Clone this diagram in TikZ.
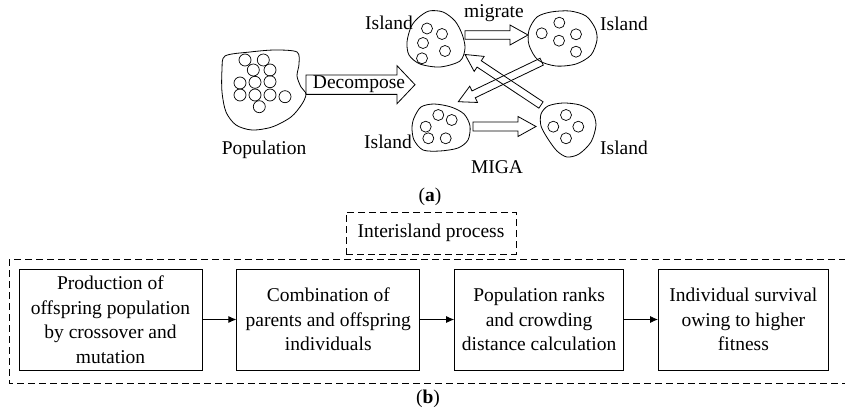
\documentclass[tikz,border=0pt]{standalone}
\usepackage{fontspec}
\setmainfont{Liberation Serif}
\usetikzlibrary{arrows.meta,positioning,calc}

% hollow block arrow: half body, half head, head length, tail, tip
\newcommand{\fatarrow}[5]{%
  \coordinate (hb) at ($(#5)!#3!(#4)$);
  \draw[fatarr] ($(#4)!#1!90:(#5)$) -- ($(hb)!#1!90:(#5)$) -- ($(hb)!#2!90:(#5)$)
    -- (#5) -- ($(hb)!#2!-90:(#5)$) -- ($(hb)!#1!-90:(#5)$) -- ($(#4)!#1!-90:(#5)$) -- cycle;
}

\begin{document}
\begin{tikzpicture}[x=1pt, y=-1pt, node distance=34pt,
  font=\fontsize{19.5}{24.5}\selectfont,
  blob/.style={draw, line width=0.8pt},
  indiv/.style={draw, line width=0.7pt},
  fatarr/.style={draw, line width=0.8pt, line join=miter},
  procbox/.style={draw, line width=0.8pt, align=center, minimum height=101pt, inner sep=2pt},
  dashbox/.style={draw, line width=0.8pt, dash pattern=on 7pt off 4pt},
  arr/.style={-{Latex[length=8pt,width=7pt]}, line width=0.8pt}
]
\useasboundingbox (0,0) rectangle (845,414);

% (a) population and islands
\draw[blob] plot[smooth cycle] coordinates {(225,56) (250,52) (275,50) (297,52) (299,64)
  (297,76) (301,87) (306,94) (302,104) (291,117) (272,127) (252,130) (236,125) (226,112) (222,92) (222,70)};
\foreach \x/\y in {245/60, 263.3/60, 253.3/70, 270/70, 240/83, 255/82.3, 270/81.7,
  240/95, 255/95, 270/95, 285/96.7, 259.3/106.7}
  \draw[indiv] (\x,\y) circle[radius=6pt];

\draw[blob] plot[smooth cycle] coordinates {(407,42) (411,27) (418,18) (429,11) (443,12) (455,21)
  (462,34) (465,48) (460,61) (440,67) (420,64) (409,55)};
\foreach \x/\y in {427/28.5, 442/34, 423/43, 445/51, 422/58.3}
  \draw[indiv] (\x,\y) circle[radius=5.5pt];

\draw[blob] plot[smooth cycle] coordinates {(529,30) (537,17) (551,12) (570,11) (586,16) (595,28)
  (597,40) (591,55) (576,64) (556,66) (538,60) (529,45)};
\foreach \x/\y in {541.7/33.3, 559.3/22.7, 559/40.7, 576/34.3, 576/51.7}
  \draw[indiv] (\x,\y) circle[radius=5.5pt];

\draw[blob] plot[smooth cycle] coordinates {(414,118) (421,107) (434,104) (451,107) (464,114)
  (470,126) (468,140) (458,148) (440,151) (423,150) (414,140) (412,128)};
\foreach \x/\y in {438.3/115, 451.7/120, 425.7/126.7, 428.3/138.3, 445.7/138.3}
  \draw[indiv] (\x,\y) circle[radius=5.5pt];

\draw[blob] plot[smooth cycle] coordinates {(541,114) (548,106) (563,103) (580,105) (592,112)
  (596,125) (591,142) (579,154) (567,157) (557,151) (548,139) (541,126)};
\foreach \x/\y in {566/115, 553.3/126.7, 578.3/126.7, 566/138.3}
  \draw[indiv] (\x,\y) circle[radius=5.5pt];

% arrow ends
\coordinate (pope) at (306,84.7);
\coordinate (dectip) at (415,84.7);
\coordinate (isla) at (465,35);
\coordinate (islb) at (528,35);
\coordinate (islc) at (473,126.5);
\coordinate (isld) at (536,126.5);
\coordinate (bw) at (541.7,61.7);
\coordinate (cn) at (458.3,101.7);
\coordinate (dn) at (541,105);
\coordinate (ae) at (465,54.5);

\fatarrow{9.7pt}{19pt}{18pt}{pope}{dectip}
\fatarrow{4.2pt}{10pt}{18pt}{isla}{islb}
\fatarrow{4.5pt}{10pt}{18pt}{islc}{isld}
\fatarrow{3.8pt}{9pt}{17pt}{dn}{ae}
\fatarrow{3.8pt}{9pt}{17pt}{bw}{cn}

\node (dec) at (359,84) {Decompose};
\node (mig) at (494,13) {migrate};
\node (lbla) at (389,23) {Island};
\node (lblb) at (624,24) {Island};
\node (lblc) at (388,142) {Island};
\node (lbld) at (624,148) {Island};
\node (pop) at (264,150) {Population};
\node (miga) at (497,167) {MIGA};
\node (capa) at (430,197) {(\textbf{a})};

% (b) interisland process
\node[dashbox, minimum width=170pt, minimum height=42pt] (inter) at (431,233) {Interisland process};
\draw[dashbox] (9,259) rectangle (848,383);

\node[procbox, minimum width=183pt] (prod) at (110.5,319.5) {Production of\\ offspring population\\ by crossover and\\ mutation};
\node[procbox, minimum width=183pt, right=of prod] (comb) {Combination of\\ parents and offspring\\ individuals};
\node[procbox, minimum width=169pt, right=of comb] (rank) {Population ranks\\ and crowding\\ distance calculation};
\node[procbox, minimum width=170pt, right=of rank] (surv) {Individual survival\\ owing to higher\\ fitness};
\draw[arr] (prod) -- (comb);
\draw[arr] (comb) -- (rank);
\draw[arr] (rank) -- (surv);

\node (capb) at (428,399) {(\textbf{b})};
\end{tikzpicture}
\end{document}
